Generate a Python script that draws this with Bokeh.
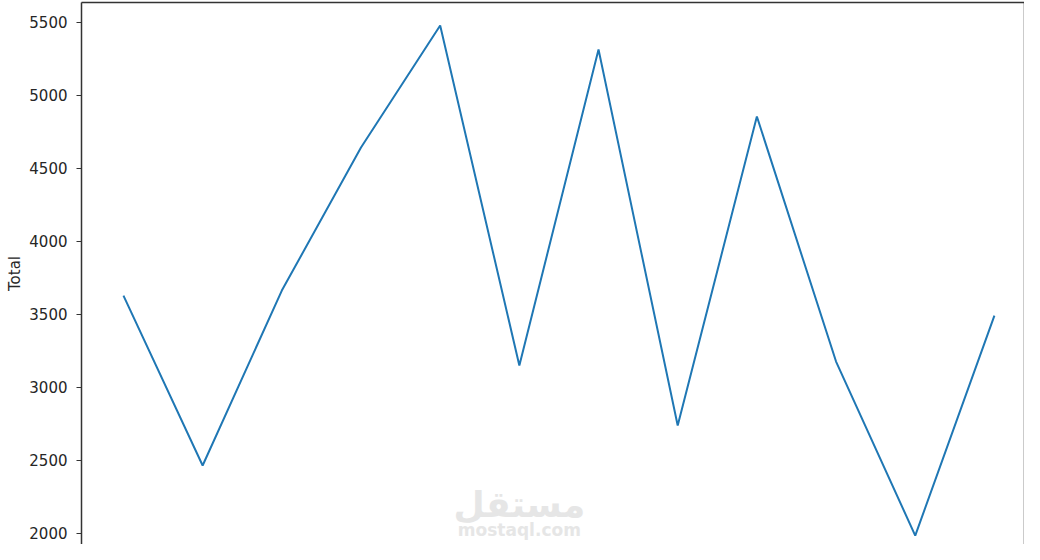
from bokeh.plotting import figure
from bokeh.models import Range1d, FixedTicker, LinearAxis, Label
from bokeh.embed import file_html
from bokeh.resources import INLINE

# data
months = [0, 1, 2, 3, 4, 5, 6, 7, 8, 9, 10, 11]
totals = [3628, 2464, 3662, 4642, 5477, 3149, 5313, 2738, 4854, 3176, 1984, 3491]
y_ticks = [2000, 2500, 3000, 3500, 4000, 4500, 5000, 5500]
y_label = "Total"
wm_ar = "مستقل"
wm_en = "mostaql.com"

TXT = "#262626"
p = figure(width=1024, height=544, output_backend="svg", toolbar_location=None,
           x_range=Range1d(-0.53, 11.38), y_range=Range1d(1923, 5635),
           min_border_left=81, min_border_right=0, min_border_top=2, min_border_bottom=0)
p.background_fill_color = "white"
p.border_fill_color = "white"
p.outline_line_color = None
p.grid.visible = False
p.xaxis.visible = False

ya = p.yaxis[0]
ya.ticker = FixedTicker(ticks=y_ticks)
ya.axis_label = y_label
ya.axis_label_text_font = "DejaVu Sans"
ya.axis_label_text_font_size = "15px"
ya.axis_label_text_font_style = "normal"
ya.axis_label_text_color = TXT
ya.axis_label_standoff = 2
ya.major_label_text_font = "DejaVu Sans"
ya.major_label_text_font_size = "15px"
ya.major_label_text_color = TXT
ya.major_label_standoff = 9
ya.major_tick_out = 5
ya.major_tick_in = 0
ya.minor_tick_out = 0
ya.minor_tick_in = 0
ya.major_tick_line_color = "#333333"
ya.axis_line_color = "#333333"
ya.axis_line_width = 1.5

for side in ("above", "right"):
    ax = LinearAxis(ticker=FixedTicker(ticks=[]), major_tick_out=0, major_tick_in=0,
                    minor_tick_out=0, minor_tick_in=0, axis_line_color="#333333",
                    axis_line_width=1.5, major_label_text_font_size="0px",
                    major_label_standoff=0)
    p.add_layout(ax, side)

# watermark
p.add_layout(Label(x=5.0, y=2200, text=wm_ar, text_font="DejaVu Sans", text_font_size="36px",
                   text_font_style="bold", text_color="#e6e6e6", text_align="center",
                   text_baseline="middle"))
p.add_layout(Label(x=5.0, y=2022, text=wm_en, text_font="DejaVu Sans", text_font_size="17px",
                   text_font_style="bold", text_color="#e6e6e6", text_align="center",
                   text_baseline="middle"))

p.line(months, totals, line_color="#1f77b4", line_width=2)

open("out.html", "w").write(file_html(p, INLINE))
